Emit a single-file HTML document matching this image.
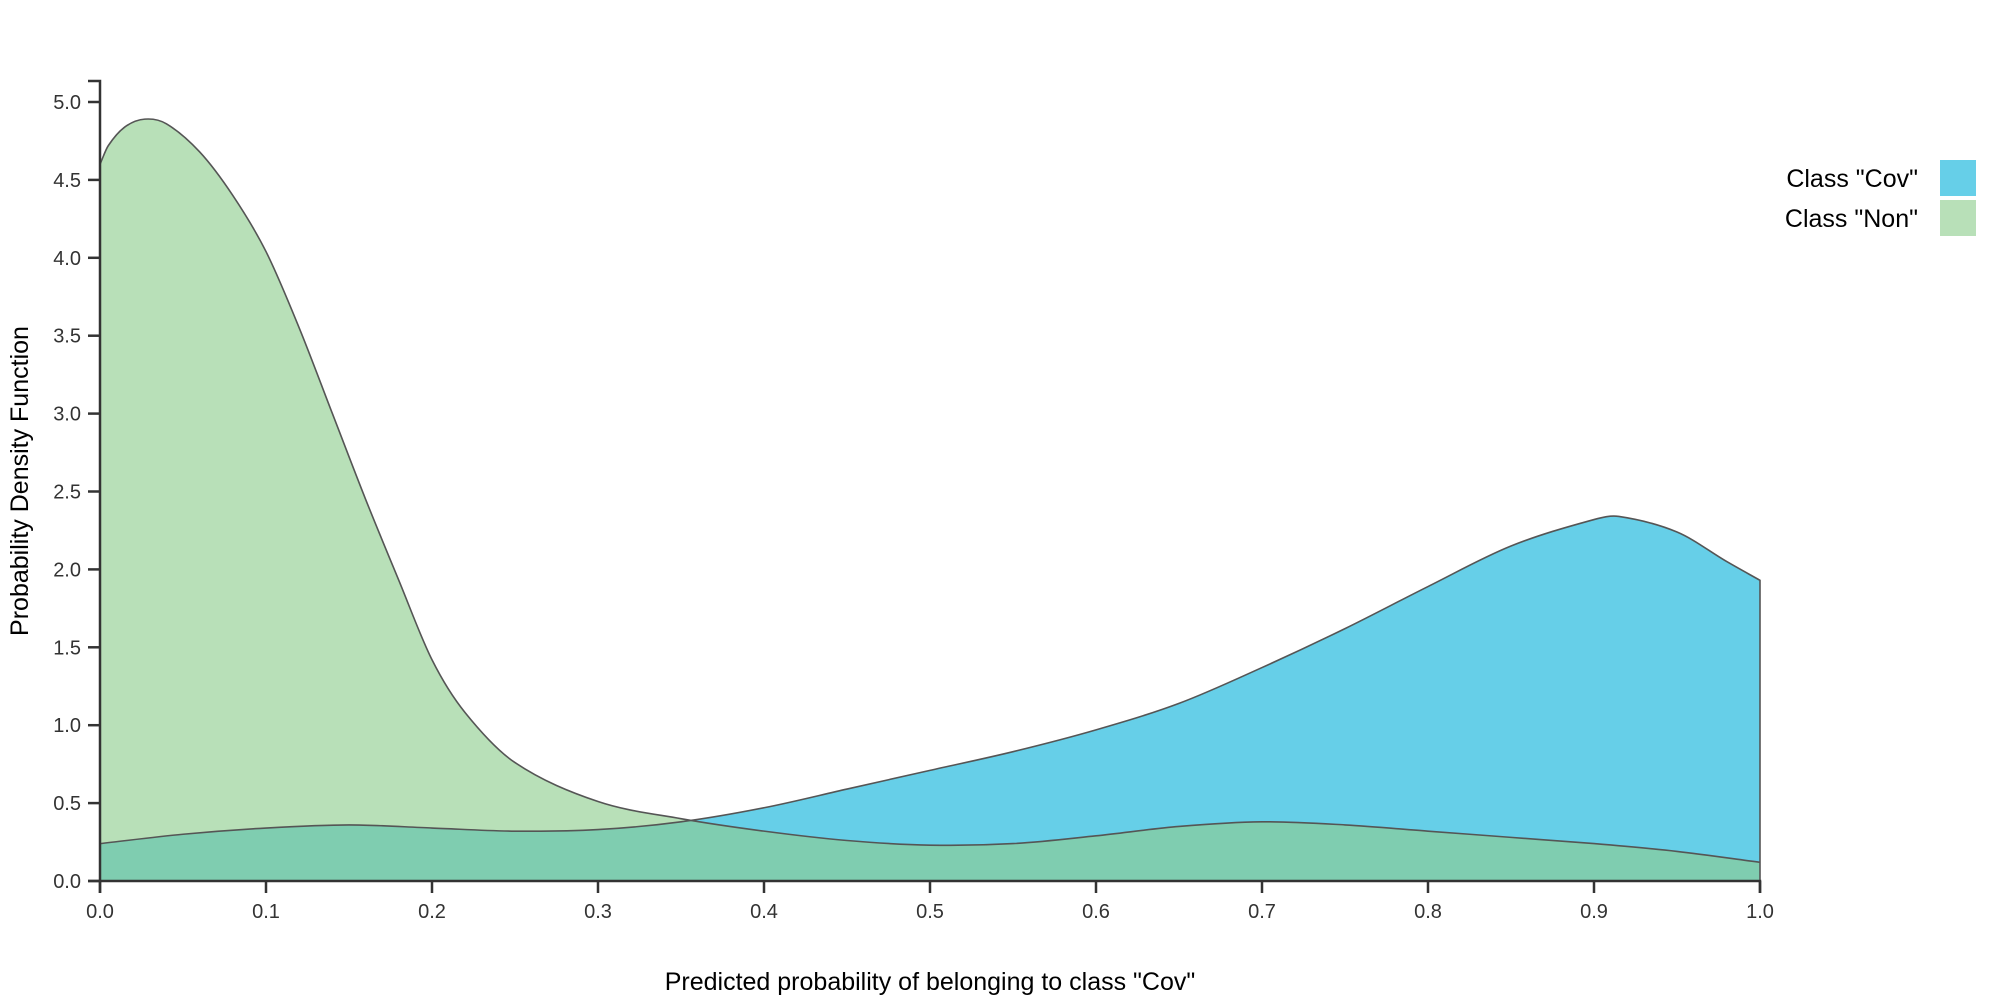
<!DOCTYPE html>
<html><head><meta charset="utf-8"><style>
html,body{margin:0;padding:0;background:#fff;width:2000px;height:1000px;overflow:hidden}
text{font-family:"Liberation Sans",sans-serif}
</style></head><body>
<svg id="chart" width="2000" height="1000" xmlns="http://www.w3.org/2000/svg">
<defs><clipPath id="covClip"><path id="covClipPath"/></clipPath></defs>
<g id="plot"></g>
<g id="axes"></g>
<text x="28" y="481" transform="rotate(-90 28 481)" text-anchor="middle" font-size="25" fill="#000">Probability Density Function</text>
<text x="930" y="990" text-anchor="middle" font-size="25" fill="#000">Predicted probability of belonging to class "Cov"</text>
<g>
<text x="1918" y="187" text-anchor="end" font-size="25" fill="#000">Class "Cov"</text>
<rect x="1940" y="160" width="36" height="36" fill="#66cfe8"/>
<text x="1918" y="227" text-anchor="end" font-size="25" fill="#000">Class "Non"</text>
<rect x="1940" y="200" width="36" height="36" fill="#b8e0b8"/>
</g>
</svg>
<script>
const nonX = [0,0.005,0.015,0.027,0.04,0.06,0.08,0.1,0.12,0.14,0.16,0.18,0.2,0.22,0.25,0.3,0.35,0.4,0.45,0.5,0.55,0.6,0.65,0.7,0.75,0.8,0.85,0.9,0.95,1.0];
const nonValues = [4.6,4.72,4.84,4.89,4.86,4.68,4.4,4.04,3.55,3.0,2.45,1.93,1.42,1.08,0.76,0.51,0.4,0.32,0.26,0.23,0.24,0.29,0.35,0.38,0.36,0.32,0.28,0.24,0.19,0.12];
const covX = [0,0.05,0.1,0.15,0.2,0.25,0.3,0.35,0.4,0.45,0.5,0.55,0.6,0.65,0.7,0.75,0.8,0.85,0.9,0.915,0.95,0.98,1.0];
const covValues = [0.24,0.3,0.34,0.36,0.34,0.32,0.33,0.38,0.47,0.59,0.71,0.83,0.97,1.14,1.37,1.62,1.89,2.15,2.32,2.34,2.24,2.05,1.93];
const xTicks = [0,0.1,0.2,0.3,0.4,0.5,0.6,0.7,0.8,0.9,1.0];
const yTicks = [0,0.5,1,1.5,2,2.5,3,3.5,4,4.5,5];
const X0=100,X1=1760,Y0=881,Y5=102;
const xs_ = v=>X0+(X1-X0)*v;
const ys_ = v=>Y0-(Y0-Y5)*v/5;
const NS="http://www.w3.org/2000/svg";
function curve(xa,vals){
  const n=xa.length, m=[];
  for(let i=0;i<n;i++){
    const a=Math.max(i-1,0), b=Math.min(i+1,n-1);
    m.push((vals[b]-vals[a])/(xa[b]-xa[a]));
  }
  let d=`M${xs_(xa[0])},${ys_(vals[0])}`;
  for(let i=0;i<n-1;i++){
    const h=xa[i+1]-xa[i];
    d+=` C${xs_(xa[i]+h/3)},${ys_(vals[i]+m[i]*h/3)} ${xs_(xa[i+1]-h/3)},${ys_(vals[i+1]-m[i+1]*h/3)} ${xs_(xa[i+1])},${ys_(vals[i+1])}`;
  }
  return d;
}
function area(xa,vals){return curve(xa,vals)+` L${xs_(1)},${Y0} L${xs_(0)},${Y0} Z`;}
const plot=document.getElementById('plot');
function mk(tag,attrs,parent){const el=document.createElementNS(NS,tag);for(const k in attrs)el.setAttribute(k,attrs[k]);(parent||plot).appendChild(el);return el;}
const covA=mk('path',{d:area(covX,covValues),fill:'#66cfe8',stroke:'none'});


const nonA=mk('path',{d:area(nonX,nonValues),fill:'#b8e0b8',stroke:'none'});


document.getElementById('covClipPath').setAttribute('d',area(covX,covValues));
const ov=mk('path',{d:area(nonX,nonValues),fill:'#7fcdb0','clip-path':'url(#covClip)'});


const covL=mk('path',{d:curve(covX,covValues)+` L${xs_(1)},${Y0}`,fill:'none',stroke:'#555','stroke-width':1.6});


const nonL=mk('path',{d:`M${xs_(0)},${Y0} L`+curve(nonX,nonValues).slice(1),fill:'none',stroke:'#555','stroke-width':1.6});


const axes=document.getElementById('axes');
const ya=mk('path',{d:`M88,81 H100 V${Y0} H88`,fill:'none',stroke:'#333','stroke-width':2.5},axes);


const xa=mk('path',{d:`M100,893 V${Y0} H${X1} V893`,fill:'none',stroke:'#333','stroke-width':2.5},axes);


yTicks.forEach(v=>{
  const t=mk('line',{x1:88,x2:100,y1:ys_(v),y2:ys_(v),stroke:'#333','stroke-width':2.5},axes);
  
  
  const l=mk('text',{x:81,y:ys_(v)+7,'text-anchor':'end','font-size':20,fill:'#333'},axes);
  
  
  l.textContent=v.toFixed(1);
});
xTicks.forEach(v=>{
  const t=mk('line',{x1:xs_(v),x2:xs_(v),y1:Y0,y2:893,stroke:'#333','stroke-width':2.5},axes);
  
  
  const l=mk('text',{x:xs_(v),y:918,'text-anchor':'middle','font-size':20,fill:'#333'},axes);
  
  
  l.textContent=v.toFixed(1);
});
</script>
</body></html>
